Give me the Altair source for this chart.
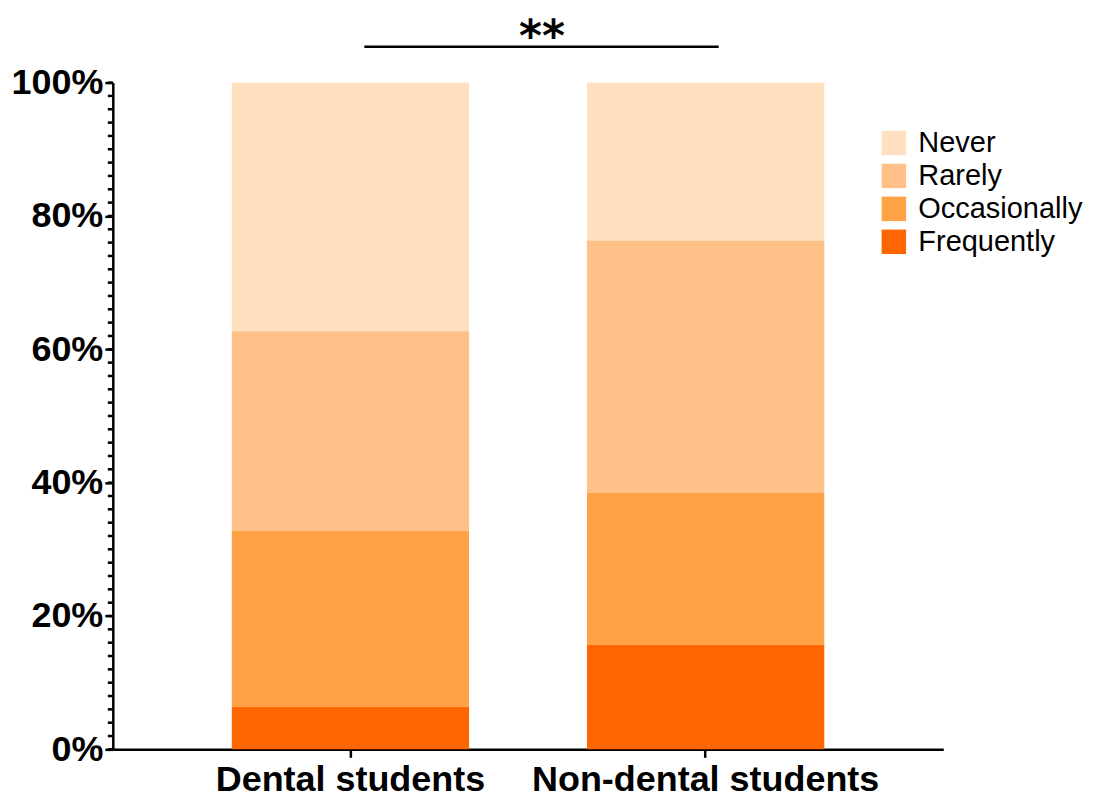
import altair as alt
import pandas as pd

groups = ["Dental students", "Non-dental students"]
categories = ["Never", "Rarely", "Occasionally", "Frequently"]
colors = ["#FFE0C1", "#FFC187", "#FFA245", "#FF6600"]
dental = [0.373, 0.299, 0.264, 0.064]
nondental = [0.237, 0.378, 0.228, 0.157]
stack_order = [3, 2, 1, 0]
minor_ticks = [i / 50 for i in range(51)]
major_ticks = [0, 0.2, 0.4, 0.6, 0.8, 1.0]
sig_label = "**"

rows = []
for g, vals in zip(groups, [dental, nondental]):
    for c, v, o in zip(categories, vals, stack_order):
        rows.append({"group": g, "cat": c, "value": v, "ord": o})
df = pd.DataFrame(rows)

FONT = "Liberation Sans"

bars = alt.Chart(df).mark_bar().encode(
    x=alt.X("group:N", sort=groups,
            scale=alt.Scale(paddingInner=0.332, paddingOuter=0.335),
            axis=alt.Axis(title=None, labelAngle=0, labelFontSize=36, labelFontWeight="bold",
                          labelFont=FONT, labelColor="black", tickSize=8, tickWidth=2.5,
                          tickColor="black", domainColor="black", domainWidth=2.5,
                          labelPadding=5, labelLimit=0)),
    y=alt.Y("value:Q", stack="zero",
            scale=alt.Scale(domain=[0, 1], nice=False),
            axis=alt.Axis(title=None, values=major_ticks, format=".0%", labelFontSize=36,
                          labelFontWeight="bold", labelFont=FONT, labelColor="black",
                          tickSize=8, tickWidth=2.5, tickColor="black", domainColor="black",
                          domainWidth=2.5, labelPadding=2, grid=False, labelLimit=0)),
    color=alt.Color("cat:N", scale=alt.Scale(domain=categories, range=colors),
                    legend=alt.Legend(title=None, orient="none", legendX=768, legendY=46,
                                      symbolType="square", symbolSize=600,
                                      symbolStrokeWidth=0, labelFontSize=29,
                                      labelFont=FONT, labelColor="black",
                                      rowPadding=3, labelOffset=10, labelLimit=0)),
    order=alt.Order("ord:Q"),
)

minor = alt.Chart(pd.DataFrame({"t": minor_ticks})).mark_rule(
    color="black", strokeWidth=2.5).encode(
    y=alt.Y("t:Q"),
    x=alt.value(-5),
    x2=alt.value(0),
)

sig_line = alt.Chart(pd.DataFrame({"s": [sig_label]})).mark_rule(
    color="black", strokeWidth=2.5).encode(
    x=alt.value(252), x2=alt.value(607), y=alt.value(-36))

sig_text = alt.Chart(pd.DataFrame({"s": [sig_label]})).mark_text(
    font="DejaVu Sans", fontSize=44, fontWeight="bold", color="black",
    align="center", baseline="alphabetic").encode(
    text="s:N", x=alt.value(430), y=alt.value(-32))

chart = alt.layer(bars, minor, sig_line, sig_text).properties(
    width=832, height=668,
    autosize=alt.AutoSizeParams(type="none"),
    padding={"left": 105, "top": 74, "right": 150, "bottom": 52},
).configure_view(stroke=None).configure_axis(grid=False)

chart.save("out.html", embed_options={"renderer": "svg", "actions": False})
